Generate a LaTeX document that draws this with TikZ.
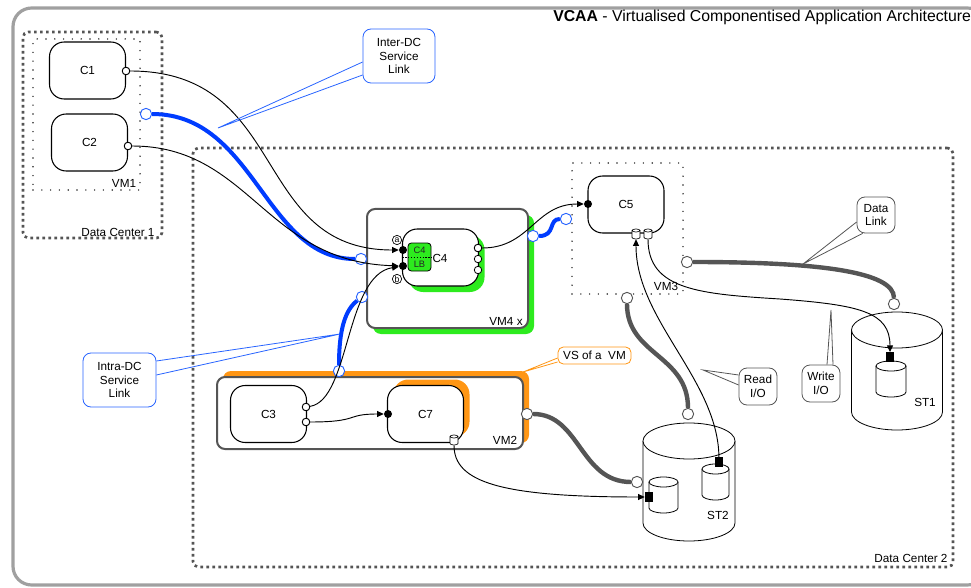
\documentclass[tikz,border=0pt]{standalone}
\usepackage{fontspec}
\setmainfont{Liberation Sans}
\usetikzlibrary{arrows.meta,calc}
\definecolor{vgreen}{RGB}{45,235,30}
\definecolor{vorange}{RGB}{255,150,20}
\definecolor{vblue}{RGB}{0,60,255}
\definecolor{cblue}{RGB}{40,100,255}
\definecolor{dgray}{RGB}{85,85,85}
\definecolor{fgray}{RGB}{160,160,160}
\newcommand{\lblfont}{\fontsize{8.8pt}{10.2pt}\selectfont}
\begin{document}
\begin{tikzpicture}[x=0.75pt,y=-0.75pt,
  dcbox/.style={draw=dgray, line width=2pt, dash pattern=on 2pt off 2.5pt, rounded corners=4pt, inner sep=0},
  vmdots/.style={draw=black!85, line width=1.2pt, dash pattern=on 0pt off 6.6pt, line cap=round, inner sep=0},
  vmbox/.style={draw=dgray, line width=1.5pt, fill=white, rounded corners=6pt, inner sep=0},
  comp/.style={draw, line width=0.8pt, fill=white, rounded corners=11pt, minimum width=57pt, minimum height=42.75pt, inner sep=0, font=\lblfont},
  compshade/.style={rounded corners=11pt, minimum width=57pt, minimum height=42.75pt, inner sep=0},
  openport/.style={circle, draw, fill=white, minimum size=5.6pt, inner sep=0, line width=0.6pt},
  dotport/.style={circle, fill=black, minimum size=6pt, inner sep=0},
  bcirc/.style={circle, draw=cblue, fill=white, minimum size=8.5pt, inner sep=0, line width=0.7pt},
  gcirc/.style={circle, draw=dgray, fill=white, minimum size=8.5pt, inner sep=0, line width=0.7pt},
  bluelink/.style={draw=vblue, line width=3pt},
  datalink/.style={draw=dgray, line width=3.3pt},
  conn/.style={draw=black, line width=0.7pt, -{Triangle[length=5pt,width=4.5pt]}},
  callout/.style={draw, fill=white, rounded corners=6pt, align=center, inner sep=0, line width=0.6pt, font=\lblfont},
  blk/.style={fill=black, inner sep=0},
  lbl/.style={font=\lblfont, inner sep=0},
  circlet/.style={circle, draw, inner sep=0, minimum size=7pt, line width=0.5pt, font=\fontsize{6.5pt}{6.5pt}\selectfont},
  minicyl/.pic={
    \draw[fill=white, line width=0.5pt] (-4,-3.5) -- (-4,3.5) arc[start angle=180,end angle=0,x radius=4,y radius=1.5] -- (4,-3.5);
    \draw[fill=white, line width=0.5pt] (0,-3.5) ellipse[x radius=4,y radius=1.5];
  }
]
\useasboundingbox (0,0) rectangle (971,588);
% outer frame
\begin{scope}
\clip (0,0) rectangle (971,588);
\draw[fgray, line width=2.4pt, rounded corners=14pt] (13,8) rectangle (986,585);
\end{scope}
\node[anchor=west, font=\fontsize{11.85pt}{12pt}\selectfont, inner sep=0] (title) at (553,17) {\textbf{VCAA} - Virtualised Componentised Application Architecture};

% containers
\node[dcbox, minimum width=139*0.75pt, minimum height=206*0.75pt] (dc1) at (92.5,135) {};
\node[dcbox, minimum width=760*0.75pt, minimum height=419*0.75pt] (dc2) at (573,357.5) {};
\node[vmdots, minimum width=107*0.75pt, minimum height=151*0.75pt] (vm1) at (86.5,114.5) {};
\node[vmdots, minimum width=111*0.75pt, minimum height=131*0.75pt] (vm3) at (627.5,228.5) {};

% VM4 with green shadow
\node[fill=vgreen, rounded corners=6pt, inner sep=0, minimum width=161*0.75pt, minimum height=119*0.75pt] (vm4s) at (453.5,274.5) {};
\node[vmbox, minimum width=161*0.75pt, minimum height=119*0.75pt] (vm4) at (447.5,268.5) {};
% VM2 with orange shadow
\node[fill=vorange, rounded corners=6pt, inner sep=0, minimum width=306*0.75pt, minimum height=72*0.75pt] (vm2s) at (376,407) {};
\node[vmbox, minimum width=306*0.75pt, minimum height=72*0.75pt] (vm2) at (370,413) {};

% components
\node[comp] (c1) at (87.5,70.5) {C1};
\node[comp] (c2) at (89.5,142.5) {C2};
\node[compshade, fill=vgreen] (c4s) at (446.5,263.5) {};
\node[comp] (c4) at (440.5,257.5) {};
\node[comp] (c3) at (268.5,414) {C3};
\node[compshade, fill=vorange] (c7s) at (431.5,408) {};
\node[comp] (c7) at (425.5,414) {C7};
\node[comp] (c5) at (626,204.5) {C5};

% C4 load balancer
\node[draw, fill=vgreen, rounded corners=2.5pt, minimum width=23*0.75pt, minimum height=28*0.75pt, inner sep=0, line width=0.6pt] (lb) at (419.5,257) {};
\draw[line width=0.5pt, dash pattern=on 1.2pt off 1pt] (c4.west |- lb.center) -- (lb.east |- lb.center);
\node[font=\fontsize{7pt}{7pt}\selectfont, text=black!85, inner sep=0] (lbt1) at (419.5,250.5) {C4};
\node[font=\fontsize{7pt}{7pt}\selectfont, text=black!85, inner sep=0] (lbt2) at (419.5,264.5) {LB};
\node[lbl] (c4l) at (440,258) {C4};

% storages
\newcommand{\cylshape}[6]{% cx, ty, rx, ry, h, lw
  \draw[fill=white, line width=#6] (#1-#3,#2) -- (#1-#3,#2+#5) arc[start angle=180,end angle=0,x radius=#3,y radius=#4] -- (#1+#3,#2);
  \draw[fill=white, line width=#6] (#1,#2) ellipse[x radius=#3,y radius=#4];
}
\cylshape{897}{330}{45.5}{18}{82}{0.6pt}
\cylshape{891}{366}{15}{5}{26}{0.6pt}
\cylshape{689}{441}{46}{18}{82}{0.6pt}
\cylshape{663.5}{482}{14.5}{5}{26}{0.6pt}
\cylshape{715.5}{469}{13.5}{5}{26}{0.6pt}
\node[lbl] (st1l) at (925,402) {ST1};
\node[lbl] (st2l) at (718,515) {ST2};
\node[blk, minimum width=5.5pt, minimum height=7pt] (st1c) at (890,357) {};
\node[blk, minimum width=6pt, minimum height=7.5pt] (st2c1) at (649,497) {};
\node[blk, minimum width=6pt, minimum height=7pt] (st2c2) at (719,462) {};

% small storage icons
\node[inner sep=0, minimum width=6pt, minimum height=7.5pt] (c5cy1) at (636,234) {};
\node[inner sep=0, minimum width=6pt, minimum height=7.5pt] (c5cy2) at (648,234) {};
\node[inner sep=0, minimum width=6pt, minimum height=7.5pt] (c7cy) at (454,440) {};
\pic at (c5cy1) {minicyl};
\pic at (c5cy2) {minicyl};
\pic at (c7cy) {minicyl};

% link end circles
\node[bcirc] (bc1) at (146,114) {};
\node[bcirc] (bc2) at (361,259) {};
\node[bcirc] (bc3) at (362,297) {};
\node[bcirc] (bc4) at (339,371) {};
\node[bcirc] (bc5) at (533,236) {};
\node[bcirc] (bc6) at (566,219) {};
\node[gcirc] (gc1) at (527,414) {};
\node[gcirc] (gc2) at (637,482) {};
\node[gcirc] (gc3) at (687,262) {};
\node[gcirc] (gc4) at (894,304) {};
\node[gcirc] (gc5) at (627,298) {};
\node[gcirc] (gc6) at (688,414) {};

% thick links
\draw[bluelink] (bc1) .. controls (255,114) and (265,259) .. (bc2);
\draw[bluelink] (bc3) .. controls (345,310) and (339,330) .. (bc4);
\draw[bluelink] (bc5) .. controls (556,236) and (548,219) .. (bc6);
\draw[datalink] (gc1) .. controls (580,414) and (580,482) .. (gc2);
\draw[datalink] (gc3) .. controls (820,262) and (894,272) .. (gc4);
\draw[datalink] (gc5) .. controls (627,355) and (688,355) .. (gc6);

% ports
\node[openport] (c1p) at (126,71) {};
\node[openport] (c2p) at (128,146) {};
\node[openport] (c3p1) at (306,407) {};
\node[openport] (c3p2) at (306,422) {};
\node[openport] (c4p1) at (478,248) {};
\node[openport] (c4p2) at (478,259) {};
\node[openport] (c4p3) at (478,270) {};
\node[dotport] (c4a) at (403,250) {};
\node[dotport] (c4b) at (403,266) {};
\node[dotport] (c5d) at (588,204) {};
\node[dotport] (c7d) at (388,414) {};
\node[circlet] (la) at (397,240) {a};
\node[circlet] (lbb) at (397,279) {b};

% thin connectors
\draw[conn] (c1p) .. controls (290,71) and (250,250) .. (c4a);
\draw[conn] (c2p) .. controls (250,146) and (265,262) .. (c4b);
\draw[conn] (c3p1) .. controls (350,400) and (345,275) .. (c4b);
\draw[conn] (c3p2) .. controls (360,422) and (345,414) .. (c7d);
\draw[conn] (c4p1) .. controls (530,248) and (535,204) .. (c5d);
\draw[conn] (c7cy) .. controls (454,482) and (500,497) .. (st2c1);
\draw[conn] (st2c2) .. controls (718,380) and (636,320) .. (c5cy1);
\draw[conn] (c5cy2) .. controls (648,290) and (700,294) .. (780,299) .. controls (860,305) and (890,312) .. (st1c);

% redraw ports over connectors
\node[openport] at (c1p) {};
\node[openport] at (c2p) {};
\node[openport] at (c3p1) {};
\node[openport] at (c3p2) {};
\node[openport] at (c4p1) {};

% callouts
\node[callout, draw=cblue, minimum width=72*0.75pt, minimum height=54*0.75pt] (cidc) at (399,56) {Inter-DC\\Service\\Link};
\coordinate (tidc) at (218,128);
\draw[cblue, line width=0.6pt] ($(cidc.west)+(0,6)$) -- (tidc) -- ($(cidc.west)+(0,19)$);
\node[callout, draw=cblue, minimum width=73*0.75pt, minimum height=54*0.75pt] (cintra) at (119.5,380) {Intra-DC\\Service\\Link};
\coordinate (tintra) at (340,334);
\draw[cblue, line width=0.6pt] ($(cintra.east)+(0,-19)$) -- (tintra) -- ($(cintra.east)+(0,-5)$);
\node[callout, draw=dgray, minimum width=38*0.75pt, minimum height=36*0.75pt] (cdl) at (876,215) {Data\\Link};
\coordinate (tdl) at (803,264);
\draw[dgray, line width=0.6pt] ($(cdl.west)+(0,7)$) -- (tdl) -- ($(cdl.south west)+(6,0)$);
\node[callout, draw=dgray, minimum width=38*0.75pt, minimum height=37*0.75pt] (cwio) at (821,383.5) {Write\\I/O};
\coordinate (twio) at (831,310);
\draw[dgray, line width=0.6pt] ($(cwio.north)+(6,0)$) -- (twio) -- ($(cwio.north)+(12,0)$);
\node[callout, draw=dgray, minimum width=38*0.75pt, minimum height=37*0.75pt] (crio) at (758,386.5) {Read\\I/O};
\coordinate (trio) at (703,370);
\draw[dgray, line width=0.6pt] ($(crio.west)+(0,-11.5)$) -- (trio) -- ($(crio.west)+(0,-1.5)$);
\node[callout, draw=vorange, minimum width=73*0.75pt, minimum height=17*0.75pt, rounded corners=4pt] (cvs) at (594.5,355.5) {VS of a\ \ VM};
\coordinate (tvs) at (523,372);
\draw[vorange, line width=0.6pt] ($(cvs.west)+(0,2.5)$) -- (tvs) -- ($(cvs.west)+(0,6.5)$);

% labels
\node[lbl] (vm1l) at (124,183) {VM1};
\node[lbl] (dc1l) at (118,232) {Data Center 1};
\node[lbl] (dc2l) at (911,558) {Data Center 2};
\node[lbl] (vm4l) at (506,321) {VM4 x};
\node[lbl] (vm2l) at (505,440) {VM2};
\node[lbl] (vm3l) at (666,286) {VM3};
\end{tikzpicture}
\end{document}
